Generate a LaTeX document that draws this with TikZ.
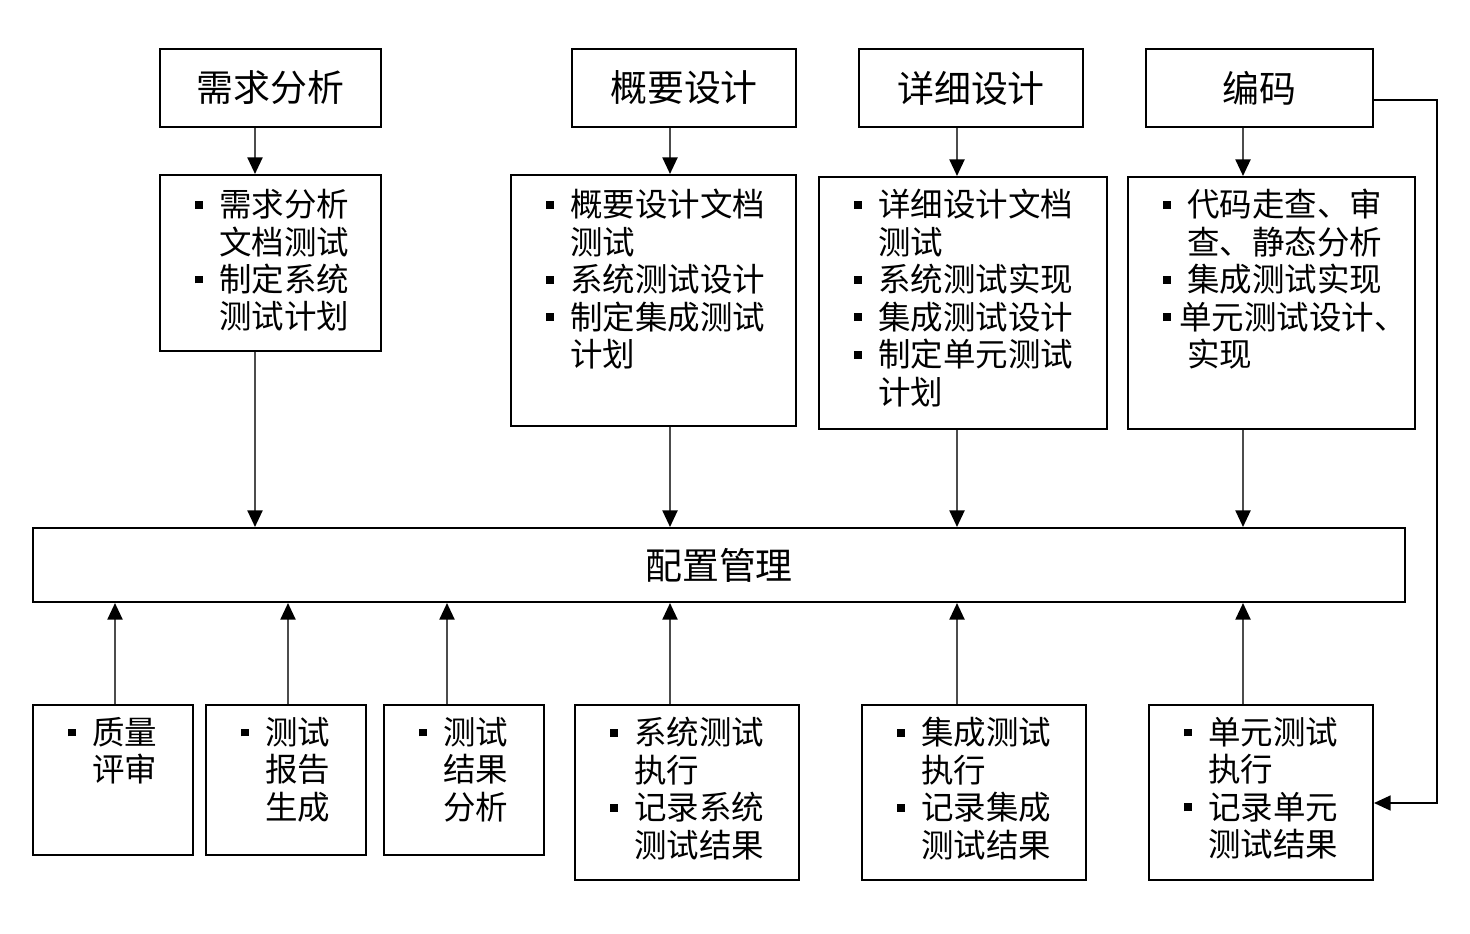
\documentclass[tikz,border=0pt]{standalone}
\usepackage{fontspec}
\newfontfamily\cjk{Noto Sans CJK SC}
\usetikzlibrary{positioning,arrows.meta,fit}

\newcommand{\itm}{\makebox[13.6pt][l]{\rule[4.6pt]{4.5pt}{4.5pt}}}
\newcommand{\itmn}{\makebox[9pt][l]{\rule[4.6pt]{4.5pt}{4.5pt}}}
\newcommand{\cnt}{\hspace*{13.6pt}}

\tikzset{
  box/.style={draw=black, line width=1.1pt, fill=white, inner sep=0pt},
  title/.style={box, label={[font=\cjk\fontsize{21}{24}\selectfont, inner sep=0pt]center:#1}},
  items/.style={inner sep=0pt, align=left, font=\cjk\fontsize{18.5}{21.3}\selectfont},
  arr/.style={draw=black!70, line width=1.4pt, -{Triangle[length=9.5pt,width=8.5pt,color=black]}},
}

\begin{document}
\begin{tikzpicture}[x=0.02cm, y=-0.02cm]
\useasboundingbox (0,0) rectangle (1470,933);

% phases
\node[title=需求分析, fit={(160,49) (381,127)}] (req) {};
\node[title=概要设计, fit={(572,49) (796,127)}] (gy) {};
\node[title=详细设计, fit={(859,49) (1083,127)}] (xx) {};
\node[title=编码, fit={(1146,49) (1373,127)}] (code) {};

% test work of each phase
\node[box, fit={(160,175) (381,351)}] (r1) {};
\node[box, fit={(511,175) (796,426)}] (r2) {};
\node[box, fit={(819,177) (1107,429)}] (r3) {};
\node[box, fit={(1128,177) (1415,429)}] (r4) {};
\node[items, anchor=north west] (r1t) at ([shift={(36,15)}]r1.north west)
  {\itm 需求分析\\ \cnt 文档测试\\ \itm 制定系统\\ \cnt 测试计划};
\node[items, anchor=north west] (r2t) at ([shift={(36,15)}]r2.north west)
  {\itm 概要设计文档\\ \cnt 测试\\ \itm 系统测试设计\\ \itm 制定集成测试\\ \cnt 计划};
\node[items, anchor=north west] (r3t) at ([shift={(36,13)}]r3.north west)
  {\itm 详细设计文档\\ \cnt 测试\\ \itm 系统测试实现\\ \itm 集成测试设计\\ \itm 制定单元测试\\ \cnt 计划};
\node[items, anchor=north west] (r4t) at ([shift={(36,13)}]r4.north west)
  {\itm 代码走查、审\\ \cnt 查、静态分析\\ \itm 集成测试实现\\ \itmn 单元测试设计、\\ \cnt 实现};

% configuration management
\node[title=配置管理, fit={(33,528) (1405,602)}] (pz) {};

% bottom row
\node[box, fit={(33,705) (193,855)}] (b1) {};
\node[box, fit={(206,705) (366,855)}] (b2) {};
\node[box, fit={(384,705) (544,855)}] (b3) {};
\node[box, fit={(575,705) (799,880)}] (b4) {};
\node[box, fit={(862,705) (1086,880)}] (b5) {};
\node[box, fit={(1149,705) (1373,880)}] (b6) {};
\node[items, anchor=north west] (b1t) at ([shift={(36,13)}]b1.north west)
  {\itm 质量\\ \cnt 评审};
\node[items, anchor=north west] (b2t) at ([shift={(36,13)}]b2.north west)
  {\itm 测试\\ \cnt 报告\\ \cnt 生成};
\node[items, anchor=north west] (b3t) at ([shift={(36,13)}]b3.north west)
  {\itm 测试\\ \cnt 结果\\ \cnt 分析};
\node[items, anchor=north west] (b4t) at ([shift={(36,13)}]b4.north west)
  {\itm 系统测试\\ \cnt 执行\\ \itm 记录系统\\ \cnt 测试结果};
\node[items, anchor=north west] (b5t) at ([shift={(36,13)}]b5.north west)
  {\itm 集成测试\\ \cnt 执行\\ \itm 记录集成\\ \cnt 测试结果};
\node[items, anchor=north west] (b6t) at ([shift={(36,13)}]b6.north west)
  {\itm 单元测试\\ \cnt 执行\\ \itm 记录单元\\ \cnt 测试结果};

% arrow columns
\coordinate (c1) at (255,0);
\coordinate (c2) at (670,0);
\coordinate (c3) at (957,0);
\coordinate (c4) at (1243,0);
\coordinate (d1) at (115,0);
\coordinate (d2) at (288,0);
\coordinate (d3) at (447,0);

\foreach \t/\r/\c in {req/r1/c1, gy/r2/c2, xx/r3/c3, code/r4/c4} {
  \draw[arr] (\t.south -| \c) -- (\r.north -| \c);
  \draw[arr] (\r.south -| \c) -- (pz.north -| \c);
}
\foreach \b/\c in {b1/d1, b2/d2, b3/d3, b4/c2, b5/c3, b6/c4}
  \draw[arr] (\b.north -| \c) -- (pz.south -| \c);

% feedback from coding to unit test execution
\coordinate (fb) at (1437,0);
\coordinate (y1) at (0,100);
\coordinate (y2) at (0,803);
\draw[arr, draw=black, line width=1.1pt] (code.east |- y1) -| (fb |- y2) -- (b6.east |- y2);

\end{tikzpicture}
\end{document}
